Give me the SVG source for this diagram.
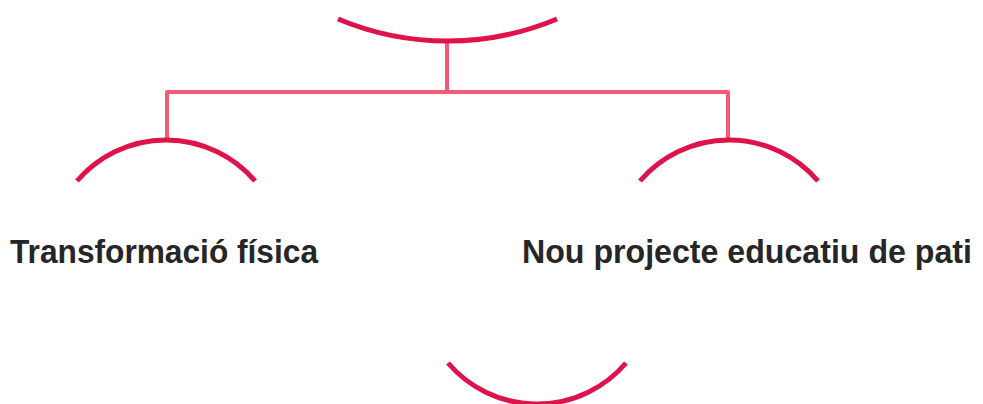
<svg xmlns="http://www.w3.org/2000/svg" width="983" height="404" viewBox="0 0 983 404">
<style>
.arc{fill:none;stroke:#E0124A;stroke-width:5}
.conn{fill:none;stroke:#F25C78;stroke-width:4;stroke-linejoin:round}
.lbl{font-family:"Liberation Sans",Arial,sans-serif;font-weight:bold;font-size:34px;fill:#262626}
</style>
<rect width="983" height="404" fill="#ffffff"/>
<g id="connectors">
<path class="conn" d="M447,41 V92"/>
<path class="conn" d="M167,140 V92 H728 V140"/>
</g>
<g id="top">
<path class="arc" d="M338,19 A283,283 0 0 0 557,19"/>
</g>
<g id="left">
<path class="arc" d="M77,181 A117,117 0 0 1 255,181"/>
<text class="lbl" x="10" y="263" textLength="308" lengthAdjust="spacingAndGlyphs">Transformació física</text>
</g>
<g id="right">
<path class="arc" d="M640,181 A117,117 0 0 1 818,181"/>
<text class="lbl" x="522" y="263" font-size="32" textLength="450" lengthAdjust="spacingAndGlyphs">Nou projecte educatiu de pati</text>
</g>
<g id="bottom">
<path class="arc" d="M448,363 A117,117 0 0 0 626,363"/>
</g>
</svg>
